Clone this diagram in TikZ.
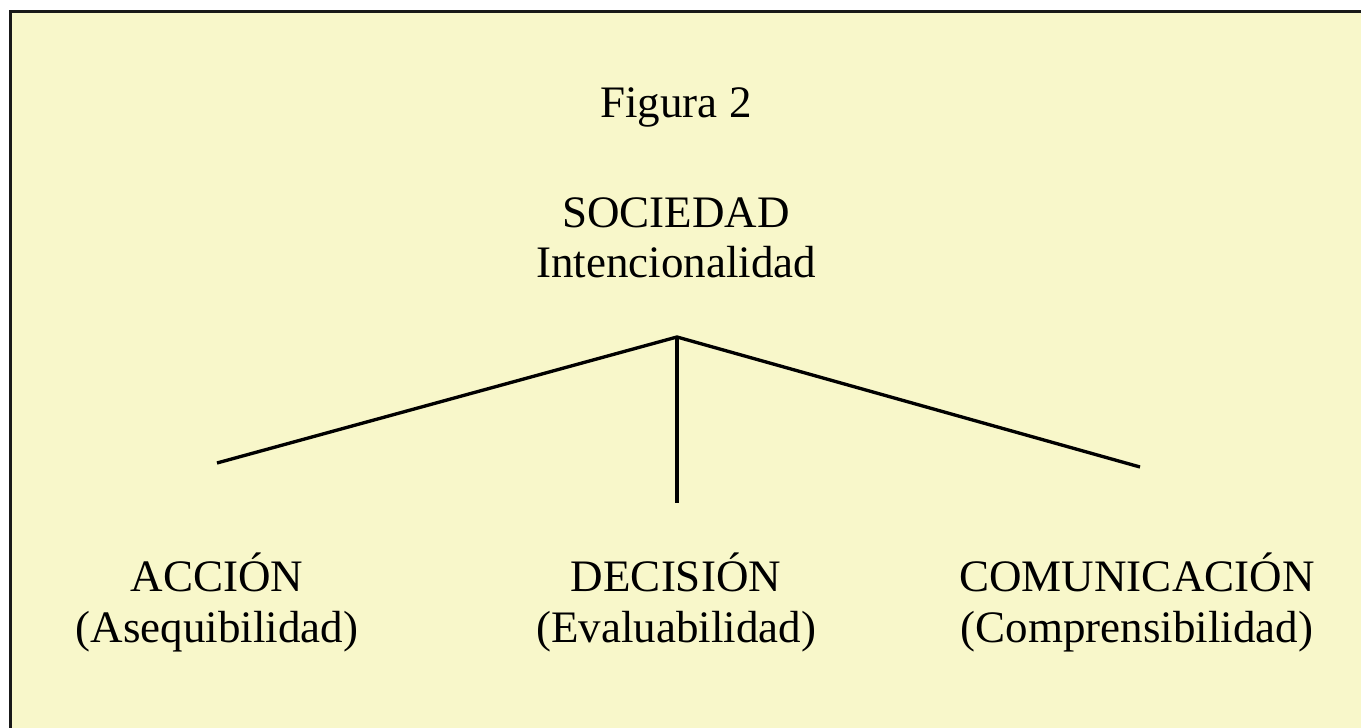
\documentclass[tikz,border=0pt]{standalone}
\usepackage{fontspec}
\setmainfont{Liberation Serif}
\definecolor{paper}{RGB}{248,247,202}
\begin{document}
\begin{tikzpicture}[x=0.01cm,y=-0.01cm,
  lbl/.style={inner sep=0pt,align=center,font=\fontsize{12.8}{14.2}\selectfont},
  conn/.style={line width=0.95pt,black}]
\useasboundingbox (0,0) rectangle (1361,728);
\fill[paper] (10.5,11.5) rectangle (1361,728);
\draw[line width=1.1pt,black!90] (10.5,728) -- (10.5,11.5) -- (1361,11.5);
\node[lbl,anchor=base] (fig) at (676,118) {Figura 2};
\node[lbl,anchor=base] (soc) at (676,228) {SOCIEDAD};
\node[lbl,anchor=base] (int) at (676,278) {Intencionalidad};
\node[lbl,anchor=base] (acc) at (217,592) {ACCIÓN};
\node[lbl,anchor=base] (ase) at (217,642) {(Asequibilidad)};
\node[lbl,anchor=base] (dec) at (676,592) {DECISIÓN};
\node[lbl,anchor=base] (eva) at (676,642) {(Evaluabilidad)};
\node[lbl,anchor=base] (com) at (1137,592) {COMUNICACIÓN};
\node[lbl,anchor=base] (cmp) at (1137,642) {(Comprensibilidad)};
\coordinate (apex) at (677,337);
\coordinate (lend) at (217,463);
\coordinate (rend) at (1140,467);
\coordinate (mend) at (677,503);
\draw[conn] (lend) -- (apex) -- (rend);
\draw[conn] (apex) -- (mend);
\end{tikzpicture}
\end{document}
